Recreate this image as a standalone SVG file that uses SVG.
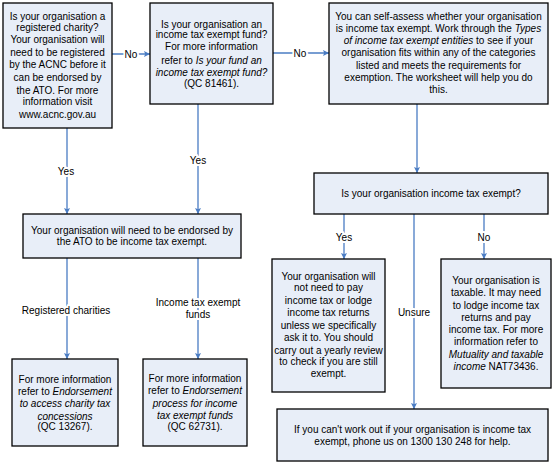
<svg xmlns="http://www.w3.org/2000/svg" width="553" height="463" viewBox="0 0 553 463">
<defs>
<style>
.box{fill:#E8EEF8;stroke:#000;stroke-width:1.3}
.t{font-family:"Liberation Sans",Arial,sans-serif;font-size:10px;fill:#000;text-anchor:middle}
.i{font-style:italic}
.c{stroke:#4A7CC3;stroke-width:1.3;fill:none;marker-end:url(#ah)}
.l{font-family:"Liberation Sans",Arial,sans-serif;font-size:10px;fill:#000;text-anchor:middle;paint-order:stroke;stroke:#fff;stroke-width:4px;stroke-linejoin:round}
</style>
<marker id="ah" viewBox="0 0 10 10" refX="10" refY="5" markerWidth="6" markerHeight="6" markerUnits="userSpaceOnUse" orient="auto">
<path d="M0,0 L10,5 L0,10 L2,5 Z" fill="#4A7CC3"/>
</marker>
</defs>
<rect width="553" height="463" fill="#fff"/>

<g id="connectors">
<line class="c" x1="112" y1="54" x2="150" y2="54"/>
<text class="l" x="131" y="57.5">No</text>
<line class="c" x1="273" y1="53" x2="329" y2="53"/>
<text class="l" x="300" y="56.5">No</text>
<line class="c" x1="67" y1="128" x2="67" y2="214"/>
<text class="l" x="66" y="174.5">Yes</text>
<line class="c" x1="198" y1="104" x2="198" y2="214"/>
<text class="l" x="198" y="163.5">Yes</text>
<line class="c" x1="417" y1="104" x2="417" y2="173"/>
<line class="c" x1="344" y1="214" x2="344" y2="259"/>
<text class="l" x="344" y="240.5">Yes</text>
<line class="c" x1="484" y1="214" x2="484" y2="259"/>
<text class="l" x="484" y="240.5">No</text>
<line class="c" x1="414" y1="214" x2="414" y2="409"/>
<text class="l" x="414" y="315.5">Unsure</text>
<line class="c" x1="67" y1="258" x2="67" y2="359"/>
<text class="l" x="66" y="313.5">Registered charities</text>
<line class="c" x1="198" y1="258" x2="198" y2="359"/>
<text class="l" x="198" y="305.5">Income tax exempt</text>
<text class="l" x="198" y="317.5">funds</text>
</g>

<g id="n1">
<rect class="box" x="3" y="3" width="109" height="125"/>
<text class="t" x="57.5" y="19.5">Is your organisation a</text>
<text class="t" x="57.5" y="30.5">registered charity?</text>
<text class="t" x="57.5" y="42.5">Your organisation will</text>
<text class="t" x="57.5" y="55.5">need to be registered</text>
<text class="t" x="57.5" y="68">by the ACNC before it</text>
<text class="t" x="57.5" y="81">can be endorsed by</text>
<text class="t" x="57.5" y="93.5">the ATO. For more</text>
<text class="t" x="57.5" y="104.5">information visit</text>
<text class="t" x="57.5" y="117.5">www.acnc.gov.au</text>
</g>

<g id="n2">
<rect class="box" x="150" y="3" width="123" height="101"/>
<text class="t" x="211.5" y="27.5">Is your organisation an</text>
<text class="t" x="211.5" y="38">income tax exempt fund?</text>
<text class="t" x="211.5" y="49.5">For more information</text>
<text class="t" x="211.5" y="64">refer to <tspan class="i">Is your fund an</tspan></text>
<text class="t i" x="211.5" y="75.5">income tax exempt fund?</text>
<text class="t" x="211.5" y="86.5">(QC 81461).</text>
</g>

<g id="n3">
<rect class="box" x="329" y="3" width="219" height="101"/>
<text class="t" x="438.5" y="19.5">You can self-assess whether your organisation</text>
<text class="t" x="438.5" y="31.8">is income tax exempt. Work through the <tspan class="i">Types</tspan></text>
<text class="t" x="438.5" y="44.2"><tspan class="i">of income tax exempt entities</tspan> to see if your</text>
<text class="t" x="438.5" y="56.2">organisation fits within any of the categories</text>
<text class="t" x="438.5" y="68.5">listed and meets the requirements for</text>
<text class="t" x="438.5" y="80.8">exemption.  The worksheet will help you do</text>
<text class="t" x="438.5" y="92.8">this.</text>
</g>

<g id="n4">
<rect class="box" x="314" y="173" width="234" height="41"/>
<text class="t" x="431" y="196.5">Is your organisation income tax exempt?</text>
</g>

<g id="n5">
<rect class="box" x="23" y="214" width="218" height="44"/>
<text class="t" x="132" y="233.5">Your organisation will need to be endorsed by</text>
<text class="t" x="132" y="244.5">the ATO to be income tax exempt.</text>
</g>

<g id="n6">
<rect class="box" x="272" y="259" width="113" height="133"/>
<text class="t" x="328.5" y="279.5">Your organisation will</text>
<text class="t" x="328.5" y="291.2">not need to pay</text>
<text class="t" x="328.5" y="303.5">income tax or lodge</text>
<text class="t" x="328.5" y="316.2">income tax returns</text>
<text class="t" x="328.5" y="328.5">unless we specifically</text>
<text class="t" x="328.5" y="341.2">ask it to. You should</text>
<text class="t" x="328.5" y="353.5">carry out a yearly review</text>
<text class="t" x="328.5" y="365.2">to check if you are still</text>
<text class="t" x="328.5" y="376.8">exempt.</text>
</g>

<g id="n7">
<rect class="box" x="441" y="259" width="110" height="129"/>
<text class="t" x="496" y="283.5">Your organisation is</text>
<text class="t" x="496" y="296.2">taxable. It may need</text>
<text class="t" x="496" y="308.5">to lodge income tax</text>
<text class="t" x="496" y="320.8">returns and pay</text>
<text class="t" x="496" y="332.8">income tax. For more</text>
<text class="t" x="496" y="345.2">information refer to</text>
<text class="t i" x="496" y="357.8">Mutuality and taxable</text>
<text class="t" x="496" y="370.2"><tspan class="i">income</tspan> NAT73436.</text>
</g>

<g id="n8">
<rect class="box" x="277" y="409" width="271" height="52"/>
<text class="t" x="412.5" y="432.5">If you can't work out if your organisation is income tax</text>
<text class="t" x="412.5" y="444.5">exempt, phone us on 1300 130 248 for help.</text>
</g>

<g id="n9">
<rect class="box" x="12" y="359" width="106" height="87"/>
<text class="t" x="65" y="382.5">For more information</text>
<text class="t" x="65" y="394.5">refer to <tspan class="i">Endorsement</tspan></text>
<text class="t i" x="65" y="406.8">to access charity tax</text>
<text class="t i" x="65" y="419.5">concessions</text>
<text class="t" x="65" y="430.2">(QC 13267).</text>
</g>

<g id="n10">
<rect class="box" x="143" y="359" width="104" height="87"/>
<text class="t" x="195" y="382">For more information</text>
<text class="t" x="195" y="393.5">refer to <tspan class="i">Endorsement</tspan></text>
<text class="t i" x="195" y="406.8">process for income</text>
<text class="t i" x="195" y="418.5">tax exempt funds</text>
<text class="t" x="195" y="430.2">(QC 62731).</text>
</g>
</svg>
